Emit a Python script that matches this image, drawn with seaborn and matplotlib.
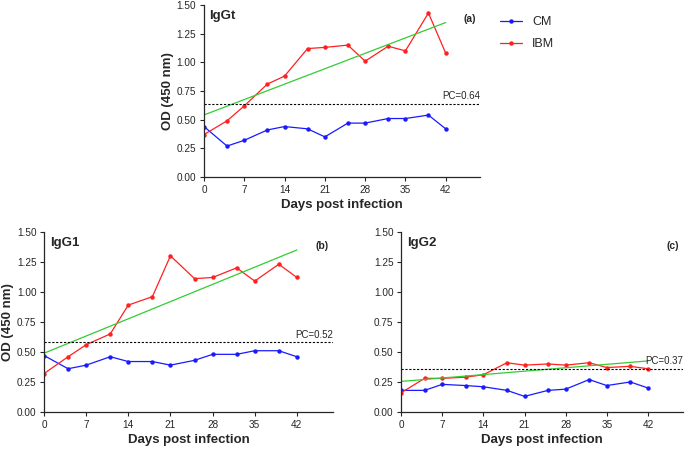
import numpy as np
import pandas as pd
import seaborn as sns
import matplotlib.pyplot as plt

# days sampled
days = [0, 4, 7, 11, 14, 18, 21, 25, 28, 32, 35, 39, 42]
xticks = [0, 7, 14, 21, 28, 35, 42]
yticks = [0.00, 0.25, 0.50, 0.75, 1.00, 1.25, 1.50]

# OD values
iggt_cm = [0.44, 0.27, 0.32, 0.41, 0.44, 0.42, 0.35, 0.47, 0.47, 0.51, 0.51, 0.54, 0.42]
iggt_ibm = [0.37, 0.49, 0.62, 0.81, 0.88, 1.12, 1.13, 1.15, 1.01, 1.14, 1.10, 1.43, 1.08]
igg1_cm = [0.47, 0.36, 0.39, 0.46, 0.42, 0.42, 0.39, 0.43, 0.48, 0.48, 0.51, 0.51, 0.46]
igg1_ibm = [0.32, 0.46, 0.56, 0.65, 0.89, 0.96, 1.30, 1.11, 1.12, 1.20, 1.09, 1.23, 1.12]
igg2_cm = [0.18, 0.18, 0.23, 0.22, 0.21, 0.18, 0.13, 0.18, 0.19, 0.27, 0.22, 0.25, 0.20]
igg2_ibm = [0.16, 0.28, 0.28, 0.29, 0.31, 0.41, 0.39, 0.40, 0.39, 0.41, 0.37, 0.38, 0.36]

# cut-off lines (position drawn) and their printed labels
pc_lines = [0.64, 0.58, 0.36]
pc_labels = ["PC=0.64", "PC=0.52", "PC=0.37"]
titles = ["IgGt", "IgG1", "IgG2"]
letters = ["(a)", "(b)", "(c)"]

sns.set_style("ticks")
plt.rcParams['font.family'] = ['Liberation Sans', 'DejaVu Sans']

fig = plt.figure(figsize=(6.88, 4.51), dpi=100)
ax_a = fig.add_axes([0.2965, 0.6075, 0.4015, 0.3815])
ax_b = fig.add_axes([0.064, 0.0865, 0.42, 0.3995])
ax_c = fig.add_axes([0.583, 0.0865, 0.41, 0.3995])

palette = {"CM": "#1a1aff", "IBM": "#ff2020"}
panels = [(ax_a, iggt_cm, iggt_ibm), (ax_b, igg1_cm, igg1_ibm), (ax_c, igg2_cm, igg2_ibm)]

for i, (ax, cm, ibm) in enumerate(panels):
    df = pd.DataFrame({"day": days * 2,
                       "od": cm + ibm,
                       "group": ["CM"] * len(days) + ["IBM"] * len(days)})
    sns.lineplot(data=df, x="day", y="od", hue="group", palette=palette,
                 marker="o", markersize=3.2, markeredgewidth=0, linewidth=0.9,
                 ax=ax, legend=(i == 0))
    # linear trend of IBM
    sns.regplot(x=days, y=ibm, scatter=False, ci=None, color="#33cc33",
                line_kws={"linewidth": 0.9}, ax=ax)
    ax.axhline(pc_lines[i], color="black", linestyle=(0, (2, 1.5)), linewidth=0.8)
    ax.text(48, pc_lines[i] + 0.02, pc_labels[i], ha="right", va="bottom", fontsize=7)
    ax.text(0.02, 0.97, titles[i], transform=ax.transAxes, ha="left", va="top",
            fontsize=9.5, fontweight="bold")
    ax.text(0.985, 0.95, letters[i], transform=ax.transAxes, ha="right", va="top",
            fontsize=7.5, fontweight="bold")

    ax.set_xlim(0, 48)
    ax.set_ylim(0, 1.5)
    ax.set_xticks(xticks)
    ax.set_yticks(yticks)
    ax.set_yticklabels([f"{v:.2f}" for v in yticks])
    ax.tick_params(labelsize=7.2, length=3, width=0.8, pad=2.5)
    for s in ["left", "bottom"]:
        ax.spines[s].set_linewidth(0.9)
    sns.despine(ax=ax)
    ax.set_xlabel("Days post infection", fontsize=9.5, fontweight="bold", labelpad=3)
    if i < 2:
        ax.set_ylabel("OD (450 nm)", fontsize=9.5, fontweight="bold", labelpad=2)
    else:
        ax.set_ylabel("")

leg = ax_a.legend(loc="upper left", bbox_to_anchor=(1.03, 1.0), frameon=False,
                  fontsize=9, handlelength=1.8, labelspacing=0.8)
leg.set_title(None)

fig.savefig("out.png", dpi=100)
